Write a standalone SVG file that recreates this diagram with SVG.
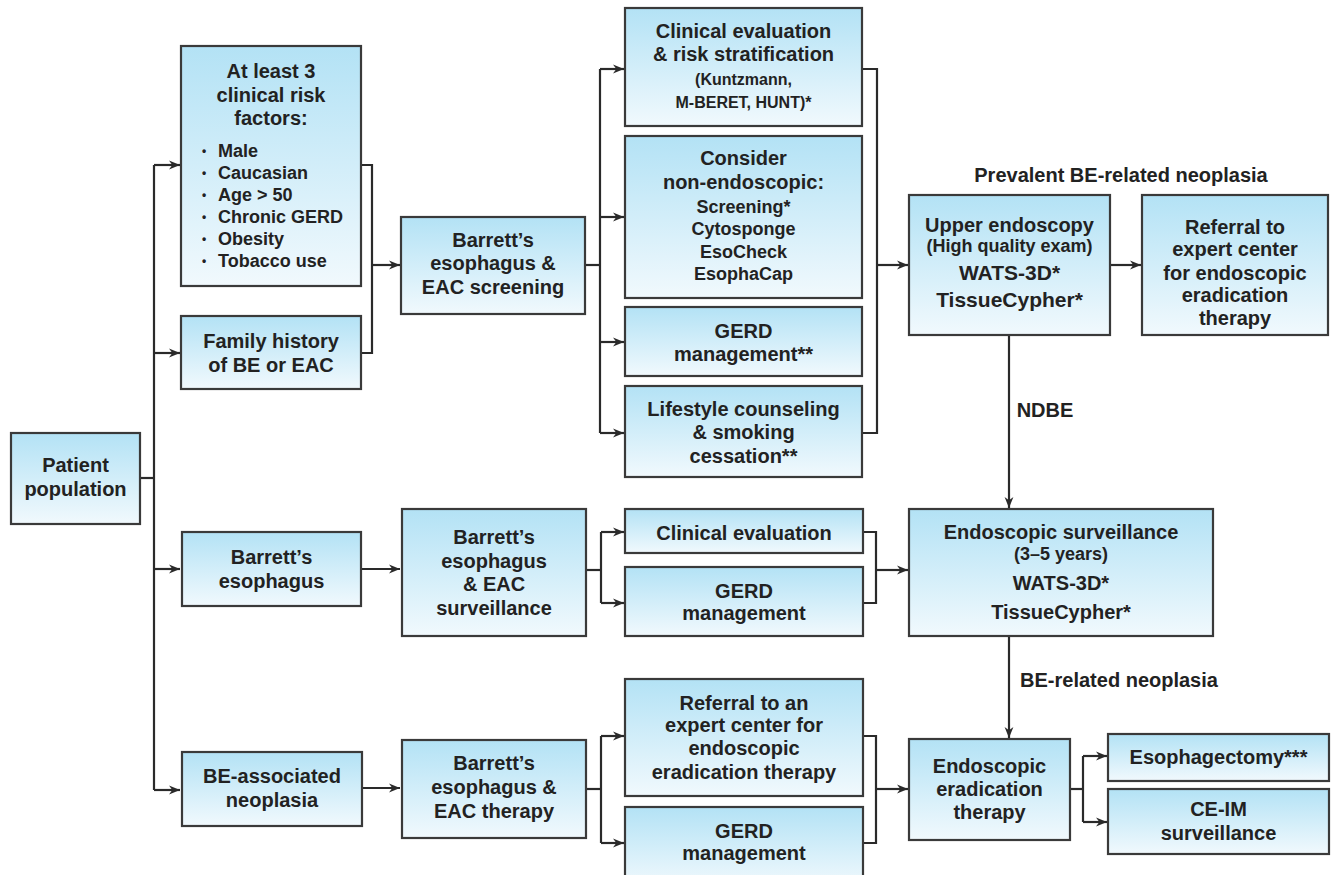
<svg xmlns="http://www.w3.org/2000/svg" width="1339" height="875" viewBox="0 0 1339 875">
<defs>
<linearGradient id="bg" x1="0" y1="0" x2="0" y2="1">
<stop offset="0" stop-color="#b3e2f5"/>
<stop offset="1" stop-color="#f1f9fd"/>
</linearGradient>
<marker id="ah" viewBox="0 0 10 10" refX="10" refY="5" markerWidth="11" markerHeight="11" markerUnits="userSpaceOnUse" orient="auto">
<path d="M0,1 L10,5 L0,9 L3,5 Z" fill="#2a2a2a"/>
</marker>
<style>
rect{fill:url(#bg);stroke:#3a3a3a;stroke-width:2.2}
text{font-family:"Liberation Sans",Arial,Helvetica,sans-serif;font-weight:bold;fill:#222;text-anchor:middle;font-size:20px}
.s{font-size:18px}
.p{font-size:16px}
.w{font-size:21px}
.l{text-anchor:start;font-size:18px}
.b{font-size:12px}
#conn path{fill:none;stroke:#2a2a2a;stroke-width:2.2}
#conn path.a{marker-end:url(#ah)}
</style>
</defs>
<rect x="0" y="0" width="1339" height="875" style="fill:#fff;stroke:none"/>
<g id="conn">
<path d="M140,478 H154"/>
<path d="M154,165 V790"/>
<path class="a" d="M154,165 H180"/>
<path class="a" d="M154,353 H180"/>
<path class="a" d="M154,569 H180"/>
<path class="a" d="M154,790 H180"/>
<path d="M361,165 H372 V353 H361"/>
<path class="a" d="M372,265 H400"/>
<path d="M585,265 H600"/>
<path d="M600,69 V433"/>
<path class="a" d="M600,69 H624"/>
<path class="a" d="M600,217 H624"/>
<path class="a" d="M600,342 H624"/>
<path class="a" d="M600,433 H624"/>
<path d="M862,69 H877 V433 H862"/>
<path class="a" d="M877,265 H908"/>
<path class="a" d="M1110,265 H1141"/>
<path class="a" d="M1009,335 V508"/>
<path class="a" d="M361,569 H400"/>
<path d="M586,570 H601"/>
<path d="M601,532 V603"/>
<path class="a" d="M601,532 H624"/>
<path class="a" d="M601,603 H624"/>
<path d="M863,532 H876 V603 H863"/>
<path class="a" d="M876,570 H908"/>
<path class="a" d="M1009,636 V738"/>
<path class="a" d="M362,788 H400"/>
<path d="M586,789 H601"/>
<path d="M601,736 V843"/>
<path class="a" d="M601,736 H624"/>
<path class="a" d="M601,843 H624"/>
<path d="M863,736 H876 V843 H863"/>
<path class="a" d="M876,789 H908"/>
<path d="M1070,789 H1083"/>
<path d="M1083,756 V822"/>
<path class="a" d="M1083,756 H1107"/>
<path class="a" d="M1083,822 H1107"/>
</g>
<g id="label-prevalent"><text x="1121" y="182">Prevalent BE-related neoplasia</text></g>
<g id="label-ndbe"><text x="1045" y="417">NDBE</text></g>
<g id="label-be-neoplasia"><text x="1119" y="687">BE-related neoplasia</text></g>
<g id="patient">
<rect x="11" y="433" width="129" height="91"/>
<text x="75.5" y="472">Patient</text>
<text x="75.5" y="496">population</text>
</g>
<g id="risk-factors">
<rect x="181" y="46" width="180" height="240"/>
<text x="271" y="78">At least 3</text>
<text x="271" y="101.5">clinical risk</text>
<text x="271" y="125">factors:</text>
<text class="b" x="204" y="155">•</text><text class="l" x="218" y="157">Male</text>
<text class="b" x="204" y="177">•</text><text class="l" x="218" y="179">Caucasian</text>
<text class="b" x="204" y="199">•</text><text class="l" x="218" y="201">Age &gt; 50</text>
<text class="b" x="204" y="221">•</text><text class="l" x="218" y="223">Chronic GERD</text>
<text class="b" x="204" y="243">•</text><text class="l" x="218" y="245">Obesity</text>
<text class="b" x="204" y="265">•</text><text class="l" x="218" y="267">Tobacco use</text>
</g>
<g id="family-history">
<rect x="181" y="316" width="180" height="73"/>
<text x="271" y="348">Family history</text>
<text x="271" y="372">of BE or EAC</text>
</g>
<g id="barretts-esophagus">
<rect x="182" y="532" width="179" height="74"/>
<text x="271.5" y="564">Barrett’s</text>
<text x="271.5" y="588">esophagus</text>
</g>
<g id="be-associated">
<rect x="182" y="752" width="180" height="74"/>
<text x="272" y="783">BE-associated</text>
<text x="272" y="807">neoplasia</text>
</g>
<g id="screening">
<rect x="401" y="217" width="184" height="97"/>
<text x="493" y="247">Barrett’s</text>
<text x="493" y="270">esophagus &amp;</text>
<text x="493" y="293.5">EAC screening</text>
</g>
<g id="surveillance">
<rect x="402" y="509" width="184" height="127"/>
<text x="494" y="544">Barrett’s</text>
<text x="494" y="567.5">esophagus</text>
<text x="494" y="591">&amp; EAC</text>
<text x="494" y="615">surveillance</text>
</g>
<g id="therapy">
<rect x="402" y="740" width="184" height="98"/>
<text x="494" y="770">Barrett’s</text>
<text x="494" y="793.5">esophagus &amp;</text>
<text x="494" y="817.5">EAC therapy</text>
</g>
<g id="clinical-risk">
<rect x="625" y="8" width="237" height="118"/>
<text x="743.5" y="38">Clinical evaluation</text>
<text x="743.5" y="61">&amp; risk stratification</text>
<text class="p" x="743.5" y="85">(Kuntzmann,</text>
<text class="p" x="743.5" y="107.5">M-BERET, HUNT)*</text>
</g>
<g id="non-endoscopic">
<rect x="625" y="136" width="237" height="162"/>
<text x="743.5" y="165">Consider</text>
<text x="743.5" y="188.5">non-endoscopic:</text>
<text class="s" x="743.5" y="212.5">Screening*</text>
<text class="s" x="743.5" y="235">Cytosponge</text>
<text class="s" x="743.5" y="257.5">EsoCheck</text>
<text class="s" x="743.5" y="280">EsophaCap</text>
</g>
<g id="gerd-1">
<rect x="625" y="307" width="237" height="69"/>
<text x="743.5" y="337.5">GERD</text>
<text x="743.5" y="361">management**</text>
</g>
<g id="lifestyle">
<rect x="625" y="386" width="237" height="91"/>
<text x="743.5" y="416">Lifestyle counseling</text>
<text x="743.5" y="439">&amp; smoking</text>
<text x="743.5" y="462.5">cessation**</text>
</g>
<g id="clinical-eval">
<rect x="625" y="509" width="238" height="44"/>
<text x="744" y="539.5">Clinical evaluation</text>
</g>
<g id="gerd-2">
<rect x="625" y="567" width="238" height="69"/>
<text x="744" y="597.5">GERD</text>
<text x="744" y="620">management</text>
</g>
<g id="referral-expert">
<rect x="625" y="679" width="238" height="117"/>
<text x="744" y="709.5">Referral to an</text>
<text x="744" y="732">expert center for</text>
<text x="744" y="755">endoscopic</text>
<text x="744" y="778.5">eradication therapy</text>
</g>
<g id="gerd-3">
<rect x="625" y="807" width="238" height="80"/>
<text x="744" y="837.5">GERD</text>
<text x="744" y="860">management</text>
</g>
<g id="upper-endoscopy">
<rect x="909" y="195" width="201" height="140"/>
<text x="1009.5" y="232">Upper endoscopy</text>
<text class="s" x="1009.5" y="252">(High quality exam)</text>
<text class="w" x="1009.5" y="280">WATS-3D*</text>
<text class="w" x="1009.5" y="307">TissueCypher*</text>
</g>
<g id="referral-center">
<rect x="1142" y="195" width="186" height="140"/>
<text x="1235" y="233.5">Referral to</text>
<text x="1235" y="256">expert center</text>
<text x="1235" y="279.5">for endoscopic</text>
<text x="1235" y="302">eradication</text>
<text x="1235" y="325">therapy</text>
</g>
<g id="endo-surveillance">
<rect x="909" y="509" width="304" height="127"/>
<text x="1061" y="538.5">Endoscopic surveillance</text>
<text class="s" x="1061" y="559.5">(3–5 years)</text>
<text x="1061" y="589.5">WATS-3D*</text>
<text x="1061" y="618.5">TissueCypher*</text>
</g>
<g id="eradication">
<rect x="909" y="739" width="161" height="101"/>
<text x="989.5" y="773">Endoscopic</text>
<text x="989.5" y="796">eradication</text>
<text x="989.5" y="819">therapy</text>
</g>
<g id="esophagectomy">
<rect x="1108" y="734" width="221" height="47"/>
<text x="1218.5" y="763.5">Esophagectomy***</text>
</g>
<g id="ce-im">
<rect x="1108" y="789" width="221" height="65"/>
<text x="1218.5" y="816">CE-IM</text>
<text x="1218.5" y="839.5">surveillance</text>
</g>
</svg>
